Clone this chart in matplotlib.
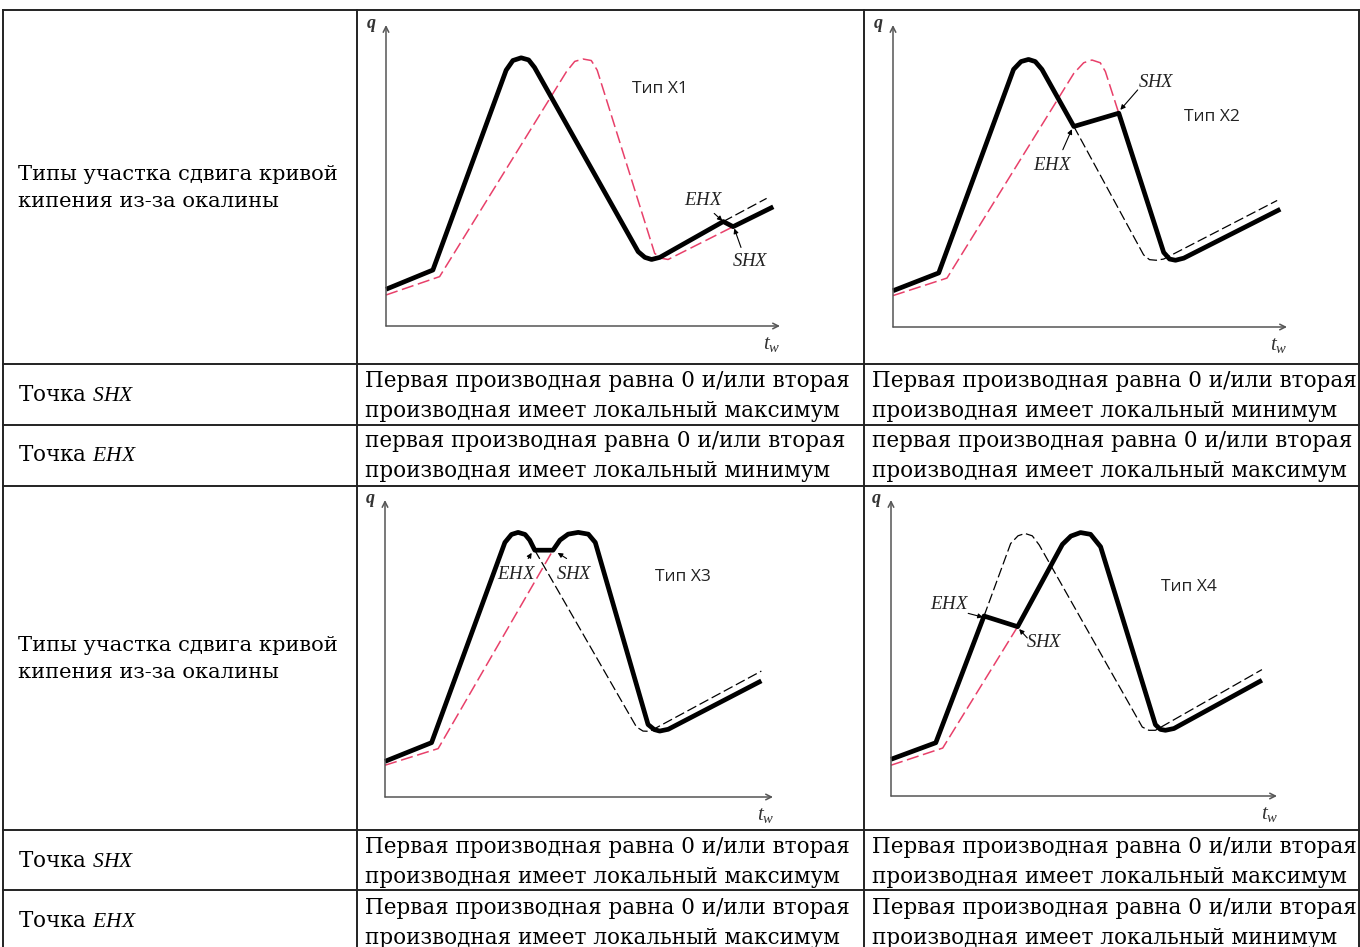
import matplotlib.pyplot as plt
import numpy as np

plt.rcParams['mathtext.fontset'] = 'custom'
plt.rcParams['mathtext.rm'] = 'Liberation Serif'
plt.rcParams['mathtext.it'] = 'Liberation Serif:italic'
plt.rcParams['mathtext.bf'] = 'Liberation Serif:bold:italic'

# ---- curve data (t_w, q) in relative units, axis spans 0..100 ----
# Тип X1
x1_bold_t = [0, 11.9, 30.5, 32.2, 34.3, 36.2, 37.7, 64.0, 65.7, 67.4, 69.5, 85.6, 88.1, 98.3]
x1_bold_q = [12.2, 18.6, 85.0, 88.2, 89.1, 88.4, 85.9, 24.7, 22.8, 22.1, 22.8, 34.7, 33.0, 39.6]
x1_red_t = [0, 13.6, 45.8, 47.9, 50.0, 52.1, 53.6, 68.2, 69.9, 71.6, 88.1]
x1_red_q = [10.3, 16.4, 84.5, 87.9, 88.7, 88.2, 85.0, 24.1, 22.5, 22.1, 33.0]
x1_ref_t = [85.6, 96.6]
x1_ref_q = [34.7, 42.4]

# Тип X2
x2_bold_t = [0, 11.6, 30.6, 32.5, 34.4, 36.1, 37.8, 45.9, 57.3, 68.7, 70.2, 71.7, 73.8, 98.3]
x2_bold_q = [12.0, 17.9, 85.3, 87.9, 88.6, 87.9, 85.3, 66.4, 70.8, 24.7, 22.5, 22.1, 22.8, 39.0]
x2_red_t = [0, 13.7, 45.9, 48.4, 50.5, 52.6, 53.9, 57.3]
x2_red_q = [10.4, 16.2, 84.0, 87.5, 88.4, 87.5, 84.6, 70.8]
x2_ref_t = [45.9, 63.6, 65.1, 66.8, 68.7, 97.5]
x2_ref_q = [66.4, 23.9, 22.3, 22.1, 22.5, 41.9]

# Тип X3
x3_bold_t = [0, 12.0, 30.9, 32.6, 34.3, 36.1, 37.3, 38.6, 43.3, 45.1, 47.2, 49.8, 52.4, 54.2,
             67.8, 69.4, 70.8, 73.0, 97.0]
x3_bold_q = [12.0, 18.3, 85.7, 88.4, 89.1, 88.4, 86.5, 83.1, 83.1, 86.5, 88.5, 89.1, 88.5, 85.7,
             24.4, 22.7, 22.2, 22.8, 39.1]
x3_red_t = [0, 13.7, 43.3]
x3_red_q = [10.7, 16.3, 83.1]
x3_ref_t = [38.6, 64.8, 66.5, 68.2, 97.0]
x3_ref_q = [83.1, 23.6, 22.2, 22.1, 42.4]

# Тип X4
x4_bold_t = [0, 11.6, 24.1, 32.8, 44.4, 46.6, 49.1, 51.7, 54.3, 68.5, 69.8, 71.1, 73.3, 96.1]
x4_bold_q = [12.4, 18.0, 60.8, 57.2, 85.0, 87.8, 89.0, 88.4, 84.2, 24.1, 22.5, 22.2, 22.8, 39.1]
x4_red_t = [0, 13.4, 32.8]
x4_red_q = [10.4, 16.2, 57.2]
x4_ref_t = [24.1, 31.0, 32.9, 34.7, 36.6, 38.4, 65.1, 66.8, 68.5, 96.1]
x4_ref_q = [60.8, 85.3, 87.9, 88.7, 87.9, 84.8, 23.3, 22.2, 22.2, 42.7]

type_labels = ['Тип X1', 'Тип X2', 'Тип X3', 'Тип X4']
type_label_pos = [(69.5, 78.9), (81.0, 69.7), (76.8, 74.2), (77.2, 70.7)]
# (text position, arrow tail, arrow head)
ehx_marks = [((80.5, 41.9), (83.3, 37.4), (85.4, 34.9)),
             ((40.4, 53.7), (43.1, 58.7), (45.4, 65.5)),
             ((33.9, 75.3), (36.9, 80.3), (37.8, 82.2)),
             ((15.1, 65.1), (20.0, 61.7), (23.8, 60.4))]
shx_marks = [((92.4, 21.9), (90.1, 26.1), (88.4, 32.4)),
             ((67.0, 81.3), (62.1, 78.5), (57.7, 71.9)),
             ((48.9, 75.3), (46.8, 80.3), (44.5, 82.2)),
             ((39.7, 52.1), (35.3, 53.4), (33.2, 56.4))]

row_label = 'Типы участка сдвига кривой\nкипения из-за окалины'
shx_texts = ['Первая производная равна 0 и/или вторая\nпроизводная имеет локальный максимум',
             'Первая производная равна 0 и/или вторая\nпроизводная имеет локальный минимум',
             'Первая производная равна 0 и/или вторая\nпроизводная имеет локальный максимум',
             'Первая производная равна 0 и/или вторая\nпроизводная имеет локальный максимум']
ehx_texts = ['первая производная равна 0 и/или вторая\nпроизводная имеет локальный минимум',
             'первая производная равна 0 и/или вторая\nпроизводная имеет локальный максимум',
             'Первая производная равна 0 и/или вторая\nпроизводная имеет локальный максимум',
             'Первая производная равна 0 и/или вторая\nпроизводная имеет локальный минимум']

curves = [(x1_bold_t, x1_bold_q, x1_red_t, x1_red_q, x1_ref_t, x1_ref_q),
          (x2_bold_t, x2_bold_q, x2_red_t, x2_red_q, x2_ref_t, x2_ref_q),
          (x3_bold_t, x3_bold_q, x3_red_t, x3_red_q, x3_ref_t, x3_ref_q),
          (x4_bold_t, x4_bold_q, x4_red_t, x4_red_q, x4_ref_t, x4_ref_q)]

W, H = 1360, 947
fig = plt.figure(figsize=(W / 100, H / 100), dpi=100)

# table grid drawn in pixel coordinates
tab = fig.add_axes([0, 0, 1, 1])
tab.set_xlim(0, W)
tab.set_ylim(H, 0)
tab.axis('off')
row_lines = [10, 364, 425, 486, 830, 890]
col_lines = [3, 357, 864, 1359]
for y in row_lines:
    tab.plot([3, W], [y, y], color='#222222', lw=1.4)
for x in col_lines:
    tab.plot([x, x], [10, H], color='#222222', lw=1.4)

serif = 'DejaVu Serif'
fs = 15.5
ls = 1.45
tab.text(18, 188, row_label, fontsize=15.1, family=serif, va='center', ha='left', linespacing=1.5)
tab.text(18, 659, row_label, fontsize=15.1, family=serif, va='center', ha='left', linespacing=1.5)
for y, name in [(395, 'SHX'), (455, 'EHX'), (861, 'SHX'), (921, 'EHX')]:
    tab.text(18, y, 'Точка $' + name + '$', fontsize=fs, family=serif, va='center', ha='left')
cell_x = [365, 872]
for i in range(2):
    tab.text(cell_x[i], 396, shx_texts[i], fontsize=fs, family=serif, va='center', ha='left', linespacing=ls)
    tab.text(cell_x[i], 456, ehx_texts[i], fontsize=fs, family=serif, va='center', ha='left', linespacing=ls)
    tab.text(cell_x[i], 862, shx_texts[i + 2], fontsize=fs, family=serif, va='center', ha='left', linespacing=ls)
    tab.text(cell_x[i], 923, ehx_texts[i + 2], fontsize=fs, family=serif, va='center', ha='left', linespacing=ls)

# chart frames: origin pixel, y-axis top pixel, x-axis end pixel
frames = [(386, 326, 25, 780), (893, 327, 25, 1287), (385, 797, 500, 773), (891, 796, 500, 1277)]

for k, (ox, oy, ytop, xend) in enumerate(frames):
    ax = fig.add_axes([ox / W, 1 - oy / H, (xend - ox) / W, (oy - ytop) / H])
    ax.set_xlim(0, 100)
    ax.set_ylim(0, 100)
    ax.axis('off')
    ax.annotate('', xy=(0, 100), xytext=(0, 0),
                arrowprops=dict(arrowstyle='->', color='#555555', lw=1.1, shrinkA=0, shrinkB=0))
    ax.annotate('', xy=(100, 0), xytext=(0, 0),
                arrowprops=dict(arrowstyle='->', color='#555555', lw=1.1, shrinkA=0, shrinkB=0))
    ax.text(-2.5, 100, r'$\mathbf{q}$', fontsize=13, ha='right', va='center', color='#333333')
    ax.text(98, -6, '$t_w$', fontsize=15, ha='center', va='center', color='#333333')

    bt, bq, rt, rq, ft, fq = curves[k]
    ax.plot(ft, fq, color='black', lw=0.9, ls=(0, (8, 3)), clip_on=False)
    ax.plot(rt, rq, color='#e8406a', lw=1.1, ls=(0, (8, 3)), clip_on=False)
    ax.plot(bt, bq, color='black', lw=3.4, solid_joinstyle='round', solid_capstyle='butt', clip_on=False)

    ax.text(*type_label_pos[k], type_labels[k], fontsize=12.5, family='Open Sans', ha='center', va='center',
            color='#222222')
    for lab, marks in [('EHX', ehx_marks[k]), ('SHX', shx_marks[k])]:
        tpos, tail, head = marks
        ax.text(*tpos, '$' + lab + '$', fontsize=13.5, ha='center', va='center', color='#222222')
        ax.annotate('', xy=head, xytext=tail,
                    arrowprops=dict(arrowstyle='-|>', color='black', lw=0.8, mutation_scale=7,
                                    shrinkA=0, shrinkB=0))

fig.savefig('out.png', dpi=100)
